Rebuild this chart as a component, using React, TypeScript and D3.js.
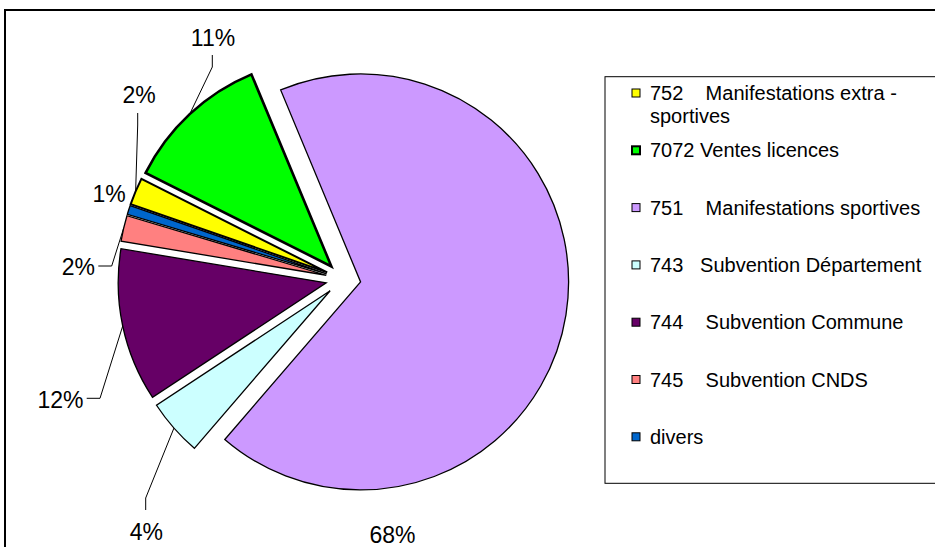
import React from "react";
import * as d3 from "d3";

// ---- data ----
const legendLabels = [
  "752    Manifestations extra -\nsportives",
  "7072 Ventes licences",
  "751    Manifestations sportives",
  "743   Subvention Département",
  "744    Subvention Commune",
  "745    Subvention CNDS",
  "divers",
];
const values = [2.1, 11.3, 67.6, 4.4, 11.9, 2.0, 0.7];
const colors = ["#FFFF00", "#00FF00", "#CC99FF", "#CCFFFF", "#660066", "#FF8080", "#0066CC"];

// ---- layout / style ----
const W = 935;
const H = 547;
const FONT = "'Liberation Sans', Arial, Helvetica, sans-serif";
const CX = 343.3;
const CY = 279.2;
const R = 208;
const EXPLODE = 17.5;
const START_DEG = 289.16;
const sliceStroke = [2, 2.6, 1.3, 1.3, 1.3, 1.3, 1.3];

// label placement: text position (x, baseline), anchor, leader attach & elbow
type LabelLayout = {
  x: number;
  y: number;
  anchor: "start" | "middle" | "end";
  leader?: { attach: [number, number]; elbow: [number, number] };
};
const labelLayout: LabelLayout[] = [
  { x: 139.2, y: 103, anchor: "middle", leader: { attach: [137.7, 113], elbow: [137.7, 125] } },
  { x: 213, y: 46, anchor: "middle", leader: { attach: [212.3, 55], elbow: [212.3, 67] } },
  { x: 392.5, y: 543, anchor: "middle" },
  { x: 146.3, y: 540, anchor: "middle", leader: { attach: [145.7, 510], elbow: [145.7, 498] } },
  { x: 83.5, y: 408, anchor: "end", leader: { attach: [86.7, 398.3], elbow: [100, 398.3] } },
  { x: 95, y: 275, anchor: "end", leader: { attach: [98.3, 266], elbow: [111.7, 266] } },
  { x: 109.2, y: 202, anchor: "middle" },
];

const LEGEND = { x: 605, y: 76.7, w: 340, h: 406.6, firstBaseline: 100, step: 57.3, swatchX: 632, textX: 650, lineH: 23 };

export default function App() {
  const start = (START_DEG * Math.PI) / 180;
  const pie = d3
    .pie<number>()
    .sort(null)
    .value((d) => d)
    .startAngle(start)
    .endAngle(start + 2 * Math.PI);
  const arcs = pie(values);
  const arcGen = d3.arc<d3.PieArcDatum<number>>().innerRadius(0).outerRadius(R);
  const total = d3.sum(values);

  const sliceCenter = (a: d3.PieArcDatum<number>) => {
    const mid = (a.startAngle + a.endAngle) / 2;
    return [CX + EXPLODE * Math.sin(mid), CY - EXPLODE * Math.cos(mid)] as [number, number];
  };
  const arcPoint = (a: d3.PieArcDatum<number>) => {
    const mid = (a.startAngle + a.endAngle) / 2;
    const [sx, sy] = sliceCenter(a);
    return [sx + R * Math.sin(mid), sy - R * Math.cos(mid)] as [number, number];
  };

  const line = d3.line();

  return (
    <svg
      width={W}
      height={H}
      style={{ position: "absolute", left: 0, top: 0, background: "#fff" }}
      fontFamily={FONT}
    >
      <rect x={0} y={0} width={W} height={H} fill="#fff" />
      {/* chart frame */}
      <rect x={5} y={10} width={W + 20} height={H + 20} fill="none" stroke="#000" strokeWidth={2} />

      {/* leader lines (under slices) */}
      {arcs.map((a, i) => {
        const L = labelLayout[i];
        if (!L.leader) return null;
        const p = arcPoint(a);
        return (
          <path
            key={"ld" + i}
            d={line([L.leader.attach, L.leader.elbow, p]) || ""}
            fill="none"
            stroke="#000"
            strokeWidth={1}
          />
        );
      })}

      {/* slices */}
      {arcs.map((a, i) => {
        const [sx, sy] = sliceCenter(a);
        return (
          <path
            key={"s" + i}
            d={arcGen(a) || ""}
            transform={`translate(${sx},${sy})`}
            fill={colors[i]}
            stroke="#000"
            strokeWidth={sliceStroke[i]}
            strokeLinejoin="miter"
          />
        );
      })}

      {/* data labels */}
      {arcs.map((a, i) => {
        const L = labelLayout[i];
        return (
          <text key={"t" + i} x={L.x} y={L.y} textAnchor={L.anchor} fontSize={23} fill="#000">
            {Math.round((a.data / total) * 100) + "%"}
          </text>
        );
      })}

      {/* legend */}
      <rect
        x={LEGEND.x}
        y={LEGEND.y}
        width={LEGEND.w}
        height={LEGEND.h}
        fill="#fff"
        stroke="#000"
        strokeWidth={1}
      />
      {legendLabels.map((lab, i) => {
        const by = LEGEND.firstBaseline + i * LEGEND.step;
        const lines = lab.split("\n");
        return (
          <g key={"lg" + i}>
            <rect
              x={LEGEND.swatchX}
              y={by - 11}
              width={8}
              height={8}
              fill={colors[i]}
              stroke="#000"
              strokeWidth={sliceStroke[i] > 2.5 ? 2 : 1}
            />
            <text x={LEGEND.textX} y={by} fontSize={20} fill="#000" style={{ whiteSpace: "pre" }}>
              {lines.map((ln, j) => (
                <tspan key={j} x={LEGEND.textX} dy={j === 0 ? 0 : LEGEND.lineH}>
                  {ln}
                </tspan>
              ))}
            </text>
          </g>
        );
      })}
    </svg>
  );
}
